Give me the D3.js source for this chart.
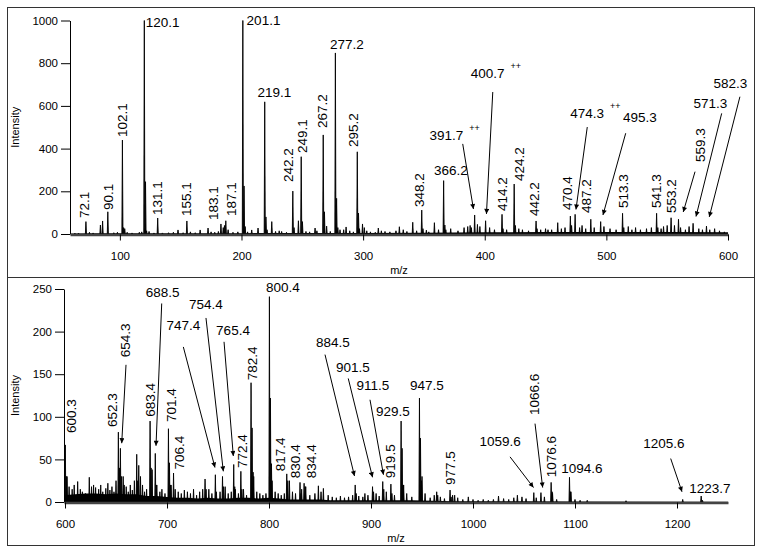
<!DOCTYPE html>
<html><head><meta charset="utf-8">
<script src="https://cdn.jsdelivr.net/npm/d3@7"></script>
<style>body{margin:0;background:#fff;} svg{display:block;font-family:"Liberation Sans",Arial,sans-serif;}</style>
</head><body><svg id="c" width="762" height="553"></svg>
<script>
// ---------- DATA ----------
// Top spectrum (m/z 60-600): peak positions and intensities
const topMz = [63,66,72.1,75,78,84,85.8,90.1,95,98,102.1,103.1,104,106,110,116,118,120.1,121.1,122,124,128,131.1,135,140,144,147.8,152,155.1,158,162,166,172.5,175,178,181,183.1,185,186,187.1,189,193,197,
 201.1,202.1,203,205,208.4,213.6,219.1,220.1,221,224.9,228,231,233,237,242.2,243.2,246.8,249.1,250.1,253,256,260.5,262,267.2,268.2,270,273,277.2,278.2,279.2,281,284,286,289,292,295.2,296.2,297,299.5,301,303,306,310,312.5,315,318,322,327,329.8,333,336,340.8,344,348.2,349.2,352,354,358.6,362,366.2,367.2,368,372,378,383,386,388,389,391.7,394,396,
 400.7,404,408,414.2,415,418,424.2,425.2,428,431,436,442.2,443,446,450,452,455,460,463,466,470.4,471.4,474.3,478,480,483,487.2,490,495.3,498,503,508,513.3,514.3,518,521,524,528,533,537,541.3,542.3,545,547,550,553.2,556,559.3,561,565,568,571.3,576,579,582.3,585,589,593,597];
const topIntensity = [3,4,58,8,5,42,61,104,6,8,440,30,25,8,5,8,10,1000,245,15,12,5,75,5,6,8,19,6,61,10,6,19,28,10,8,12,47,30,40,62,20,8,10,
 1000,225,35,10,19,28,619,80,20,58,12,15,12,8,201,30,62,362,58,12,10,28,15,464,104,37,12,848,167,30,20,20,33,15,10,385,98,25,47,30,15,10,8,28,15,12,10,15,34,20,12,55,15,112,25,18,10,53,20,250,42,20,25,15,30,35,40,30,89,45,35,
 62,30,20,92,25,20,234,40,25,20,15,61,25,20,25,20,20,53,25,30,84,40,92,30,40,25,69,30,58,35,25,20,97,30,35,20,30,20,25,30,97,30,25,35,40,76,40,69,30,20,35,50,25,20,37,20,25,15,10];
// dense low-level baseline ("grass") of the top spectrum
const topFloorMz = [59,80,100,150,200,250,300,350,400,450,500,550,600];
const topFloor   = [2,3,3,3,4,5,5,6,8,9,9,9,8];

// Bottom spectrum (m/z 600-1250)
const botMz = [600.3,601.3,602,604,607,609,612.4,615,617,620,623.8,626,628,630,633,635,637,640,642,644,646,648,650,652.3,653.3,654.3,655.3,657,658,660,662,664,666,668,670.3,671.3,672.3,674,676,678,680,683.4,684.4,685.4,688.5,689.5,690,693,695,698,
 701.4,702.4,703.4,704,706.4,708,711,714,717,720,723,726,729,732,735,737.3,738.3,741,744,747.4,748.4,752,754.4,755.4,757,760,763,765.4,766.4,767,770,772.4,773.4,775,778,782.4,783.4,784.4,785,788,791,794,797,
 800.4,801.4,802.4,803,806,809,812,815,817.4,818.4,820,823,826,830.4,831.4,832,834.4,835.4,836,840,845,848.4,851,853.3,858,862,866,870,874,878,882,884.5,885.5,888,892,894,897,
 901.5,902.5,905,908,911.5,912.5,915,919.5,920.5,923,929.5,930.5,931.5,932,935,940,947.5,948.5,949.5,950,953,958,962,964.4,965.4,968,972,977.5,978.5,980,982,985,990,995.4,
 1000,1005,1010,1015,1020,1025,1030,1035,1040,1043.5,1048,1052,1059.6,1062,1066.6,1070,1076.6,1077.6,1078,1082,1094.6,1095.6,1096,1100,1105,1112,1150,1205.6,1223.7,1225];
const botIntensity = [67,30,30,18,15,20,24,15,12,10,29,18,20,17,15,20,12,16,22,14,18,12,25,82,40,63,30,30,20,18,12,20,14,25,56,25,43,30,20,12,15,95,40,38,57,20,20,12,15,10,
 86,46,20,20,34,15,12,10,14,12,10,15,8,12,15,27,15,15,10,32,12,12,30,18,18,10,12,44,18,15,10,36,15,15,8,140,87,35,30,12,10,8,10,
 241,122,45,25,12,10,8,10,33,25,25,12,10,23,10,15,22,18,18,8,10,19,12,16,8,6,5,7,5,6,8,20,10,7,6,10,8,
 18,12,10,7,24,15,12,21,10,8,95,63,20,20,10,6,122,75,25,30,10,5,8,12,8,6,4,14,6,8,8,5,3,6,
 3,2,3,2,3,7,4,3,5,8,6,4,11,5,11,6,23,12,10,3,29,12,12,3,2,2,1.5,3,7,2];
const botFloorMz = [599,610,620,630,640,650,660,670,680,690,700,710,720,730,740,750,760,770,780,790,800,810,820,830,840,850,860,880,900,920,940,960,980,1000,1050,1100,1250];
const botFloor   = [8,9,10,10,9,10,9,9,7,7,6,5,5,4,5,4,4,5,5,4,5,4,3,3,3,3,2,2,2,2,2,1.5,1,1,1,0.5,0.3];

// Axis ticks
const topTicksX = [100,200,300,400,500,600];
const topTicksY = [0,200,400,600,800,1000];
const botTicksX = [600,700,800,900,1000,1100,1200];
const botTicksY = [0,50,100,150,200,250];

// Peak annotations (text, rotated?, anchor in data units, optional arrow in data units)
const topNotes = [
 {t:"72.1",r:1,mz:70.5,i:75},{t:"90.1",r:1,mz:90.7,i:112},{t:"102.1",r:1,mz:102.2,i:454},
 {t:"120.1",r:0,mz:135.1,i:970},{t:"131.1",r:1,mz:130.5,i:89},{t:"155.1",r:1,mz:154.4,i:84},
 {t:"183.1",r:1,mz:176.6,i:66},{t:"187.1",r:1,mz:191.9,i:84},{t:"201.1",r:0,mz:218.1,i:979},
 {t:"219.1",r:0,mz:227.1,i:642},{t:"242.2",r:1,mz:238.6,i:244},{t:"249.1",r:1,mz:249.7,i:379},
 {t:"267.2",r:1,mz:266.6,i:496},{t:"277.2",r:0,mz:286.7,i:866},{t:"295.2",r:1,mz:291.7,i:407},
 {t:"348.2",r:1,mz:345.9,i:126},{t:"366.2",r:0,mz:372.2,i:276},
 {t:"391.7",r:0,mz:368.5,i:440,sup:1,a:[381.9,422,390.7,117]},
 {t:"400.7",r:0,mz:402.3,i:729,sup:1,a:[406.6,665,401.4,94]},
 {t:"414.2",r:1,mz:414.2,i:108},{t:"424.2",r:1,mz:428.2,i:248},{t:"442.2",r:1,mz:440.9,i:84},
 {t:"470.4",r:1,mz:467.6,i:112},{t:"487.2",r:1,mz:483.2,i:98},
 {t:"474.3",r:0,mz:484.1,i:543,sup:1,a:[484.3,501,475.0,115]},
 {t:"495.3",r:0,mz:527.6,i:526,a:[515.9,472,497.2,89]},
 {t:"513.3",r:1,mz:513.6,i:122},{t:"541.3",r:1,mz:540.8,i:122},{t:"553.2",r:1,mz:553.2,i:98},
 {t:"559.3",r:1,mz:576.8,i:337,a:[572.9,292,563.2,103]},
 {t:"571.3",r:0,mz:585.6,i:589,a:[594.8,565,573.7,82]},
 {t:"582.3",r:0,mz:602.0,i:682,a:[609.8,643,584.6,80]}
];
const botNotes = [
 {t:"600.3",r:1,mz:605.9,i:81},{t:"652.3",r:1,mz:646.7,i:88},
 {t:"654.3",r:1,mz:658.8,i:170,a:[659.8,161,655.6,69]},
 {t:"683.4",r:1,mz:683.3,i:100},
 {t:"688.5",r:0,mz:695.6,i:241,a:[694.8,233,689.2,66]},
 {t:"701.4",r:1,mz:703.9,i:94},{t:"706.4",r:1,mz:711.7,i:38},
 {t:"747.4",r:0,mz:716.0,i:202,a:[716.0,182,747.0,40.5]},
 {t:"754.4",r:0,mz:738.2,i:227,a:[738.2,216,755.2,36]},
 {t:"765.4",r:0,mz:764.7,i:196,a:[755.9,188,765.0,54]},
 {t:"772.4",r:1,mz:773.5,i:40},{t:"782.4",r:1,mz:784.0,i:143},
 {t:"800.4",r:0,mz:813.7,i:247},{t:"817.4",r:1,mz:810.8,i:36},
 {t:"830.4",r:1,mz:825.8,i:28},{t:"834.4",r:1,mz:841.2,i:28},
 {t:"884.5",r:0,mz:862.7,i:182,a:[854.9,173,883.8,30.5]},
 {t:"901.5",r:0,mz:882.3,i:152,a:[877.7,145,901.5,29]},
 {t:"911.5",r:0,mz:901.9,i:131,a:[899.0,120,912.2,32]},
 {t:"919.5",r:1,mz:918.6,i:28},{t:"929.5",r:0,mz:921.5,i:101},{t:"947.5",r:0,mz:954.9,i:131},
 {t:"977.5",r:1,mz:977.9,i:20},
 {t:"1059.6",r:0,mz:1026.5,i:66,a:[1036.3,53,1059.3,17]},
 {t:"1066.6",r:1,mz:1059.8,i:102,a:[1060.8,92,1068.3,17]},
 {t:"1076.6",r:1,mz:1076.5,i:29},{t:"1094.6",r:0,mz:1106.8,i:34},
 {t:"1205.6",r:0,mz:1187.2,i:63,a:[1193.8,51,1204.9,12]},
 {t:"1223.7",r:0,mz:1232.3,i:11}
];

// ---------- DRAW ----------
const svg = d3.select("#c");
svg.append("rect").attr("width",762).attr("height",553).attr("fill","#fff");
const defs = svg.append("defs");
defs.append("marker").attr("id","ah").attr("viewBox","0 0 10 10").attr("refX",10).attr("refY",5)
  .attr("markerWidth",8).attr("markerHeight",5).attr("markerUnits","userSpaceOnUse").attr("orient","auto")
  .append("path").attr("d","M0,0L10,5L0,10z").attr("fill","#000");

// panel frames
svg.append("rect").attr("x",7.5).attr("y",7.5).attr("width",747).attr("height",270).attr("fill","none").attr("stroke","#333");
svg.append("rect").attr("x",7.5).attr("y",277.5).attr("width",747).attr("height",268).attr("fill","none").attr("stroke","#333");

const fmt = d3.format("d");

function panel(p){
  const x = d3.scaleLinear().domain(p.xd).range(p.xr);
  const y = d3.scaleLinear().domain(p.yd).range(p.yr);
  const g = svg.append("g");
  // grass
  const area = d3.area().x((d,i)=>x(p.fmz[i])).y0(y(0)).y1((d,i)=>y(p.f[i]));
  g.append("path").datum(p.f).attr("d",area).attr("fill","#000");
  // peaks
  g.selectAll("path.pk").data(p.mz).join("path").attr("class","pk")
    .attr("d",(m,i)=>`M${x(m-p.hw)},${y(0)}L${x(m)},${y(p.v[i])}L${x(m+p.hw)},${y(0)}Z`)
    .attr("fill","#000").attr("stroke","#000").attr("stroke-width",0.9).attr("stroke-linejoin","miter");
  // axes
  const ya = g.append("g").attr("transform",`translate(${p.xr[0]},0)`)
    .call(d3.axisLeft(y).tickValues(p.ty).tickFormat(fmt).tickSizeInner(9).tickSizeOuter(0).tickPadding(3));
  ya.selectAll("text").attr("font-size",11.5).attr("font-family","Liberation Sans, Arial, sans-serif").attr("fill","#000");
  ya.selectAll("line,path").attr("stroke","#000");
  const xa = g.append("g").attr("transform",`translate(0,${y(0)+0.5})`)
    .call(d3.axisBottom(x).tickValues(p.tx).tickFormat(fmt).tickSizeInner(6).tickSizeOuter(0).tickPadding(11));
  xa.selectAll("text").attr("font-size",11.5).attr("font-family","Liberation Sans, Arial, sans-serif").attr("fill","#000");
  xa.select(".domain").attr("stroke","#444").attr("stroke-width",2.5);
  xa.selectAll(".tick line").attr("stroke","#000");
  // titles
  const cy = (p.yr[0]+p.yr[1])/2;
  svg.append("text").attr("transform",`translate(15.5,${cy}) rotate(-90)`).attr("text-anchor","middle")
    .attr("dy","0.35em").attr("font-size",11).text("Intensity");
  svg.append("text").attr("x",(p.xr[0]+p.xr[1])/2).attr("y",p.mzY).attr("text-anchor","middle")
    .attr("font-size",11).text("m/z");
  // annotations
  p.notes.forEach(n=>{
    const px = x(n.mz), py = y(n.i);
    let t;
    if(n.r){
      t = g.append("text").attr("transform",`translate(${px},${py}) rotate(-90)`).attr("dy","0.35em")
        .attr("text-anchor","start").attr("font-size",13.5).text(n.t);
    } else {
      t = g.append("text").attr("x",px).attr("y",py).attr("text-anchor","middle")
        .attr("font-size",13.5).text(n.t);
      if(n.sup){
        const w = t.node().getComputedTextLength();
        g.append("text").attr("x",px+w/2+6).attr("y",py-9).attr("font-size",9).text("++");
      }
    }
    if(n.a){
      g.append("line").attr("x1",x(n.a[0])).attr("y1",y(n.a[1])).attr("x2",x(n.a[2])).attr("y2",y(n.a[3]))
        .attr("stroke","#000").attr("stroke-width",1).attr("marker-end","url(#ah)");
    }
  });
}

panel({xd:[59,600], xr:[70,728], yd:[0,1000], yr:[234,20.5], hw:0.45,
  mz:topMz, v:topIntensity, fmz:topFloorMz, f:topFloor, tx:topTicksX, ty:topTicksY, mzY:274, notes:topNotes});
panel({xd:[599,1250], xr:[64,728], yd:[0,250], yr:[502,289], hw:0.5,
  mz:botMz, v:botIntensity, fmz:botFloorMz, f:botFloor, tx:botTicksX, ty:botTicksY, mzY:542, notes:botNotes});
</script>
</body></html>
